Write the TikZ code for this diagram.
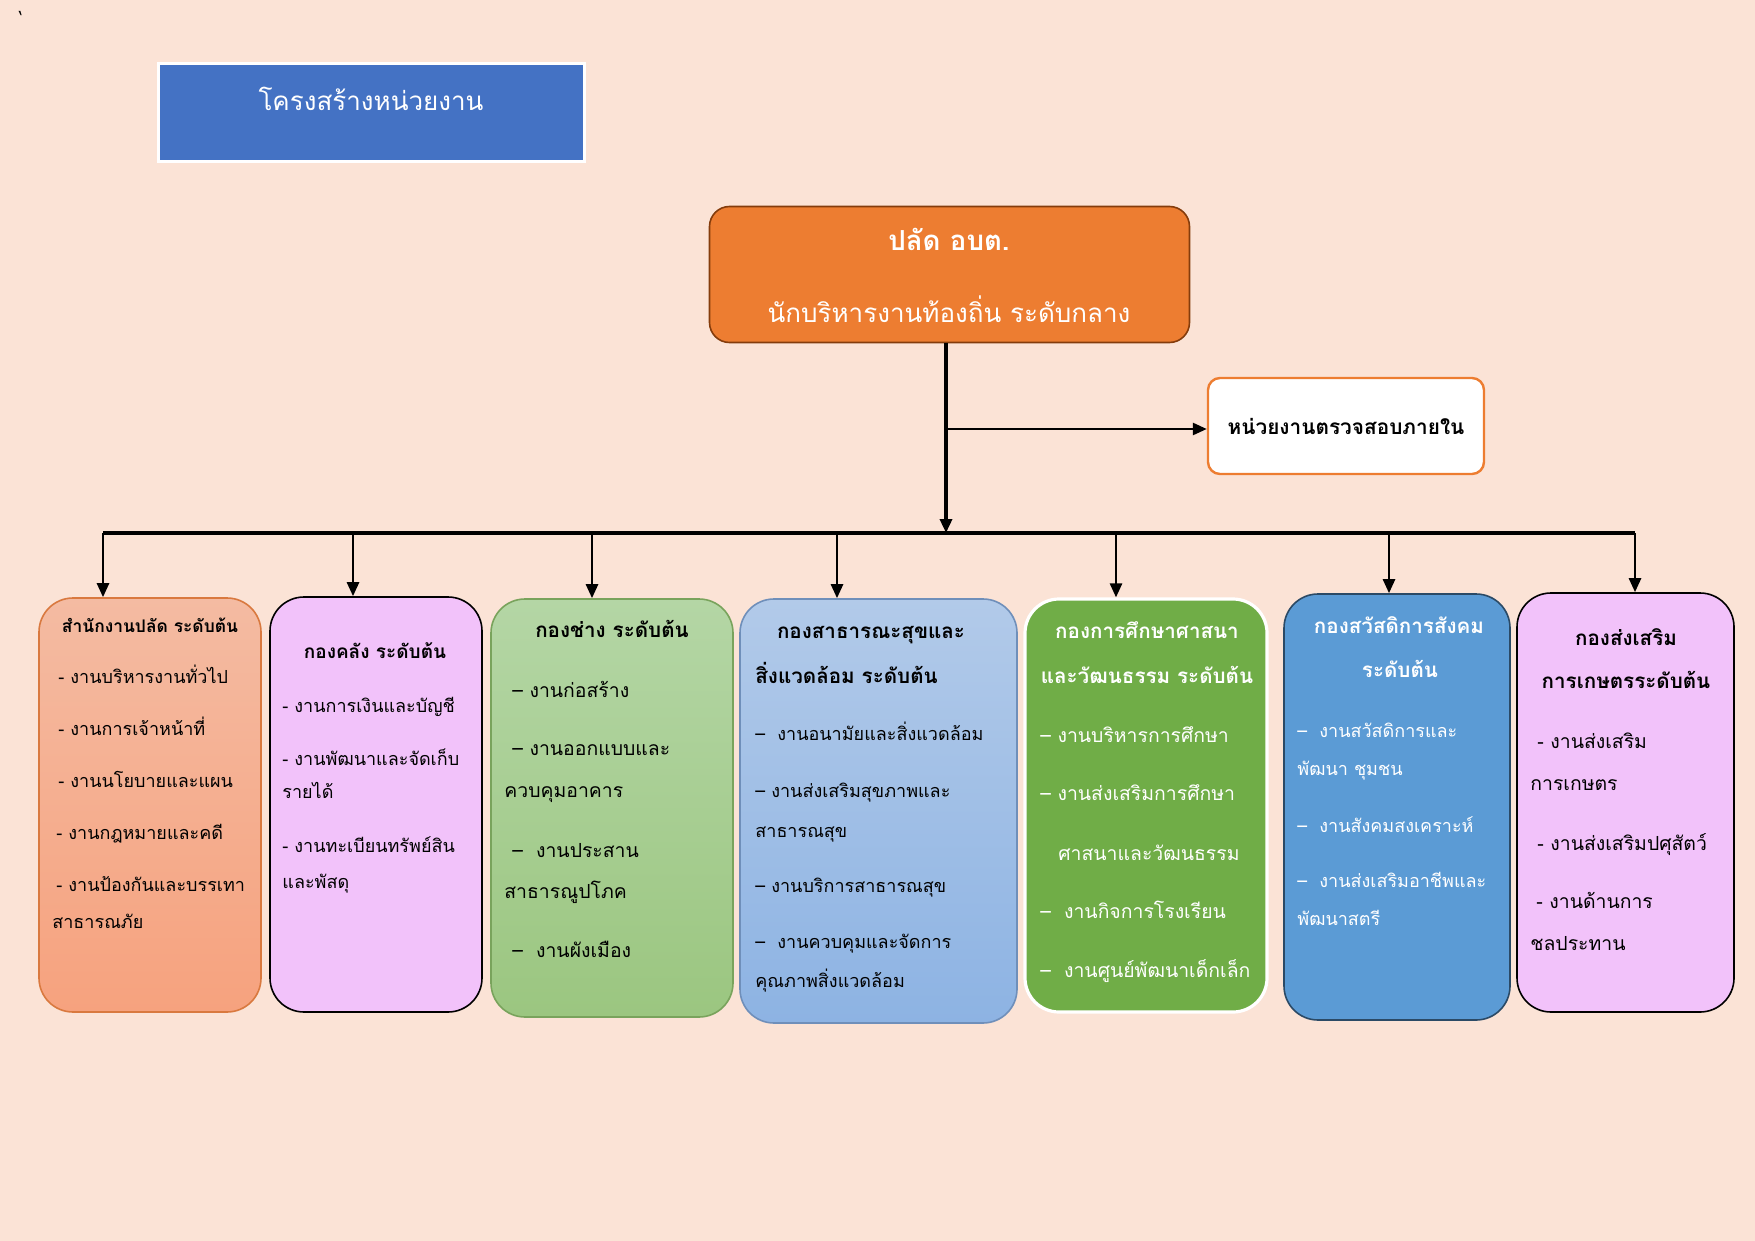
\documentclass[tikz,border=0pt]{standalone}
\usepackage{fontspec}
\setmainfont[Script=Thai]{Loma}
\usetikzlibrary{arrows.meta}
\definecolor{pagebg}{HTML}{FBE3D6}
\definecolor{headblue}{HTML}{4472C4}
\definecolor{chieforange}{HTML}{ED7D31}
\definecolor{chiefedge}{HTML}{843C0C}
\definecolor{salmontop}{HTML}{F4BBA2}
\definecolor{salmonbot}{HTML}{F6A27E}
\definecolor{salmonedge}{HTML}{D9793F}
\definecolor{lilac}{HTML}{F2C2FA}
\definecolor{sagetop}{HTML}{B4D6A5}
\definecolor{sagebot}{HTML}{9BC680}
\definecolor{sageedge}{HTML}{79A35C}
\definecolor{skytop}{HTML}{B2CAE9}
\definecolor{skybot}{HTML}{8DB3E3}
\definecolor{skyedge}{HTML}{6F8FBA}
\definecolor{leaf}{HTML}{70AD47}
\definecolor{ocean}{HTML}{5B9BD5}
\definecolor{oceanedge}{HTML}{2B4A66}
\tikzset{
  unit/.style={rounded corners=17pt, line width=0.8pt},
  item/.style={anchor=west, inner sep=0pt, text height=0.5em, text depth=0pt, font=\fontsize{9}{11}\selectfont},
  bigitem/.style={item, font=\fontsize{9.7}{11}\selectfont},
  head/.style={inner sep=0pt, text height=0.5em, text depth=0pt, font=\bfseries\fontsize{10.3}{12}\selectfont},
  link/.style={line width=1.3pt, -{Triangle[length=7pt,width=6pt]}}
}
\begin{document}
\begin{tikzpicture}[x=0.5pt, y=-0.5pt]
  \fill[pagebg] (0,0) rectangle (1755,1241);
  \useasboundingbox (0,0) rectangle (1755,1241);
  \node[inner sep=0pt, font=\fontsize{8}{9}\selectfont] (tick) at (21,17) {‘};
  % title
  \node [fill=headblue, draw=white, line width=1.5pt, minimum width=213pt, minimum height=49pt] (title) at (371,113) {};
  \node [white, inner sep=0pt, text height=0.5em, text depth=0pt, font=\fontsize{13}{15}\selectfont] (title-t) at (371,106) {โครงสร้างหน่วยงาน};
  % chief and audit unit
  \node [fill=chieforange, draw=chiefedge, line width=0.8pt, rounded corners=10pt, minimum width=240pt, minimum height=68pt] (palad) at (949.5,274.5) {};
  \node [head, white, font=\bfseries\fontsize{13.8}{15}\selectfont] (palad-t1) at (949,245) {ปลัด อบต.};
  \node [head, white, font=\fontsize{13}{15}\selectfont] (palad-t2) at (949,317) {นักบริหารงานท้องถิ่น ระดับกลาง};
  \node [fill=white, draw=chieforange, line width=1.2pt, rounded corners=6pt, minimum width=138pt, minimum height=48pt, font=\bfseries\fontsize{10.4}{12}\selectfont] (audit) at (1346,426) {หน่วยงานตรวจสอบภายใน};
  % divisions
  \node [unit, top color=salmontop, bottom color=salmonbot, draw=salmonedge, minimum width=111pt, minimum height=207pt] (b1) at (150,805) {};
  \node [unit, fill=lilac, draw=black, minimum width=106pt, minimum height=207.5pt] (b2) at (376,804.5) {};
  \node [unit, top color=sagetop, bottom color=sagebot, draw=sageedge, minimum width=121pt, minimum height=209pt] (b3) at (612,808) {};
  \node [unit, top color=skytop, bottom color=skybot, draw=skyedge, minimum width=138.5pt, minimum height=212pt] (b4) at (878.5,811) {};
  \node [unit, fill=leaf, draw=white, line width=1.6pt, minimum width=121pt, minimum height=206.5pt] (b5) at (1146,805.5) {};
  \node [unit, fill=ocean, draw=oceanedge, minimum width=113pt, minimum height=213pt] (b6) at (1397,807) {};
  \node [unit, fill=lilac, draw=black, minimum width=108.5pt, minimum height=209.5pt] (b7) at (1625.5,802.5) {};
  % connectors
  \coordinate (barL) at (103,533);
  \coordinate (barR) at (1635,533);
  \coordinate (trunk) at ([xshift=-1.75pt]palad.south);
  \coordinate (auditin) at ([yshift=-1.5pt]audit.west);
  \draw [line width=2pt] (barL) -- (barR);
  \draw [link, line width=1.7pt] (trunk) -- (trunk |- barL);
  \draw [link] (trunk |- auditin) -- (auditin);
  \foreach \i/\x in {1/103, 2/353, 3/592, 4/837, 5/1116, 6/1389, 7/1635} {
    \coordinate (d\i) at (\x,533);
    \draw [link] (d\i) -- (d\i |- b\i.north);
  }
  % division texts
  \node [head, font=\bfseries\fontsize{8.7}{10}\selectfont] (b1-h) at (150,627) {สำนักงานปลัด ระดับต้น};
  \foreach \x/\y/\t [count=\n] in {58/678/{- งานบริหารงานทั่วไป}, 58/730/{- งานการเจ้าหน้าที่}, 58/782/{- งานนโยบายและแผน},
      56/834/{- งานกฎหมายและคดี}, 56/886/{- งานป้องกันและบรรเทา}, 52/923/{สาธารณภัย}}
    \node [item] (b1-\n) at (\x,\y) {\t};
  \node [head, font=\bfseries\fontsize{9.5}{11}\selectfont] (b2-h) at (375,653) {กองคลัง ระดับต้น};
  \foreach \x/\y/\t [count=\n] in {282/707/{- งานการเงินและบัญชี}, 282/760/{- งานพัฒนาและจัดเก็บ}, 282/793/{รายได้},
      282/847/{- งานทะเบียนทรัพย์สิน}, 282/883/{และพัสดุ}}
    \node [item] (b2-\n) at (\x,\y) {\t};
  \node [head] (b3-h) at (612,632) {กองช่าง ระดับต้น};
  \foreach \x/\y/\t [count=\n] in {512/692/{– งานก่อสร้าง}, 512/750/{– งานออกแบบและ}, 504/792/{ควบคุมอาคาร},
      512/852/{–\ \ งานประสาน}, 504/893/{สาธารณูปโภค}, 512/952/{–\ \ งานผังเมือง}}
    \node [bigitem] (b3-\n) at (\x,\y) {\t};
  \node [head] (b4-h) at (871,633) {กองสาธารณะสุขและ};
  \node [head, anchor=west] (b4-h2) at (755,678) {สิ่งแวดล้อม ระดับต้น};
  \foreach \x/\y/\t [count=\n] in {755/735/{–\ \ งานอนามัยและสิ่งแวดล้อม}, 755/792/{– งานส่งเสริมสุขภาพและ}, 755/832/{สาธารณสุข},
      755/887/{– งานบริการสาธารณสุข}, 755/943/{–\ \ งานควบคุมและจัดการ}, 755/982/{คุณภาพสิ่งแวดล้อม}}
    \node [item] (b4-\n) at (\x,\y) {\t};
  \node [head, white] (b5-h) at (1147,633) {กองการศึกษาศาสนา};
  \node [head, white] (b5-h2) at (1147,678) {และวัฒนธรรม ระดับต้น};
  \foreach \x/\y/\t [count=\n] in {1040/737/{– งานบริหารการศึกษา}, 1040/795/{– งานส่งเสริมการศึกษา}, 1058/855/{ศาสนาและวัฒนธรรม},
      1040/913/{–\ \ งานกิจการโรงเรียน}, 1040/972/{–\ \ งานศูนย์พัฒนาเด็กเล็ก}}
    \node [bigitem, white] (b5-\n) at (\x,\y) {\t};
  \node [head, white] (b6-h) at (1399,628) {กองสวัสดิการสังคม};
  \node [head, white] (b6-h2) at (1400,672) {ระดับต้น};
  \foreach \x/\y/\t [count=\n] in {1297/732/{–\ \ งานสวัสดิการและ}, 1297/770/{พัฒนา ชุมชน}, 1297/827/{–\ \ งานสังคมสงเคราะห์},
      1297/882/{–\ \ งานส่งเสริมอาชีพและ}, 1297/920/{พัฒนาสตรี}}
    \node [item, white] (b6-\n) at (\x,\y) {\t};
  \node [head] (b7-h) at (1626,640) {กองส่งเสริม};
  \node [head] (b7-h2) at (1626,683) {การเกษตรระดับต้น};
  \foreach \x/\y/\t [count=\n] in {1537/743/{- งานส่งเสริม}, 1530/785/{การเกษตร}, 1537/845/{- งานส่งเสริมปศุสัตว์},
      1536/903/{- งานด้านการ}, 1530/945/{ชลประทาน}}
    \node [bigitem] (b7-\n) at (\x,\y) {\t};
\end{tikzpicture}
\end{document}
